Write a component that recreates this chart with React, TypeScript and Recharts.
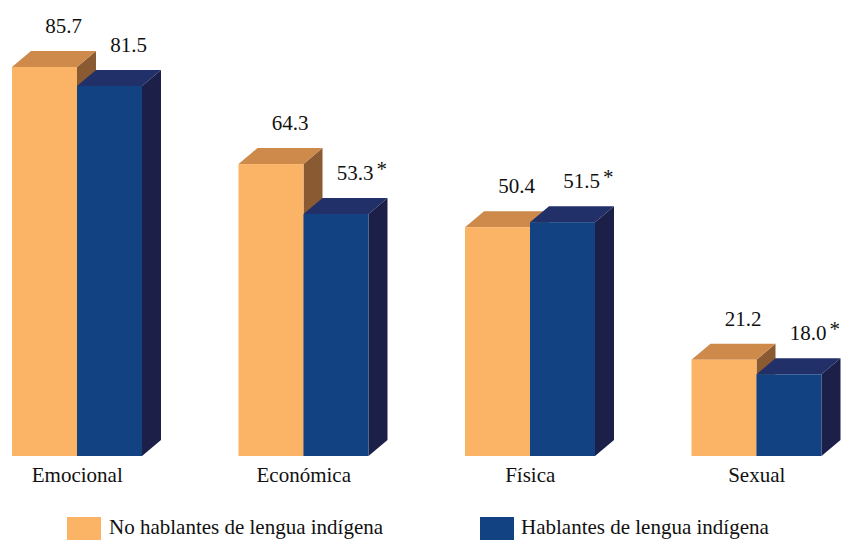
import React from 'react';
import { BarChart, Bar, XAxis, YAxis, LabelList } from 'recharts';

const categories = ['Emocional', 'Económica', 'Física', 'Sexual'];
const noHablantes = [85.7, 64.3, 50.4, 21.2];
const hablantes = [81.5, 53.3, 51.5, 18.0];
const hablantesSignificant = [false, true, true, true];
const seriesNames = ['No hablantes de lengua indígena', 'Hablantes de lengua indígena'];

const data = categories.map((c, i) => ({
  name: c,
  no: noHablantes[i],
  si: hablantes[i],
}));

const DX = 19;
const DY = 16;
const FONT = 'Liberation Serif';
const FS = 21;
const TXT = { fontFamily: FONT, fontSize: FS };

const ORANGE = { front: '#FBB466', top: '#CD8A4A', side: '#8A5A32' };
const BLUE = { front: '#134283', top: '#213068', side: '#1C1F48' };

const makeShape = (c: { front: string; top: string; side: string }) => (props: any) => {
  const { x, y, width, height } = props;
  if (x == null || y == null) return null;
  const side = `${x + width},${y} ${x + width + DX},${y - DY} ${x + width + DX},${y + height - DY} ${x + width},${y + height}`;
  const top = `${x},${y} ${x + DX},${y - DY} ${x + width + DX},${y - DY} ${x + width},${y}`;
  return (
    <g>
      <polygon points={side} fill={c.side} />
      <polygon points={top} fill={c.top} />
      <rect x={x} y={y} width={width} height={height} fill={c.front} />
    </g>
  );
};

const textWidth = (s: string) =>
  s.split('').reduce((acc, ch) => acc + (ch === '.' ? 0.25 : 0.5), 0) * FS;

const makeLabel = (flags: boolean[] | null) => (p: any) => {
  const { x, y, width, value, index } = p;
  const cx = x + width / 2 + DX;
  const by = y - DY - 18;
  const s = Number(value).toFixed(1);
  const flag = flags ? flags[index] : false;
  return (
    <g>
      <text x={cx} y={by} textAnchor="middle" style={TXT} fill="#111">
        {s}
      </text>
      {flag ? (
        <text x={cx + textWidth(s) / 2 + 3} y={by - 4} textAnchor="start" style={{ fontFamily: FONT, fontSize: 21 }} fill="#111">
          *
        </text>
      ) : null}
    </g>
  );
};

const CatTick = (p: any) => {
  const { x, y, payload } = p;
  return (
    <text x={x} y={y + 26} textAnchor="middle" style={TXT} fill="#111">
      {payload.value}
    </text>
  );
};

export default function App() {
  return (
    <div style={{ position: 'absolute', left: 0, top: 0, width: 843, height: 540, overflow: 'hidden', background: '#fff', fontFamily: FONT }}>
      <div style={{ position: 'absolute', left: -36, top: 0 }}>
        <BarChart width={906} height={540} data={data} margin={{ top: 2, right: 0, left: 0, bottom: 0 }} barGap={0} barSize={65}>
          <YAxis hide domain={[0, 100]} />
          <XAxis
            dataKey="name"
            axisLine={false}
            tickLine={false}
            tickSize={0}
            tickMargin={0}
            height={84}
            interval={0}
            tick={<CatTick />}
          />
          <Bar dataKey="no" name={seriesNames[0]} isAnimationActive={false} shape={makeShape(ORANGE)}>
            <LabelList dataKey="no" content={makeLabel(null)} />
          </Bar>
          <Bar dataKey="si" name={seriesNames[1]} isAnimationActive={false} shape={makeShape(BLUE)}>
            <LabelList dataKey="si" content={makeLabel(hablantesSignificant)} />
          </Bar>
        </BarChart>
      </div>
      <div style={{ position: 'absolute', left: 67, top: 517, width: 34, height: 34, background: ORANGE.front }} />
      <div style={{ position: 'absolute', left: 109, top: 515, fontFamily: FONT, fontSize: FS, lineHeight: '24px', color: '#111', whiteSpace: 'nowrap' }}>
        {seriesNames[0]}
      </div>
      <div style={{ position: 'absolute', left: 480, top: 517, width: 34, height: 34, background: BLUE.front }} />
      <div style={{ position: 'absolute', left: 521, top: 515, fontFamily: FONT, fontSize: FS, lineHeight: '24px', color: '#111', whiteSpace: 'nowrap' }}>
        {seriesNames[1]}
      </div>
    </div>
  );
}
